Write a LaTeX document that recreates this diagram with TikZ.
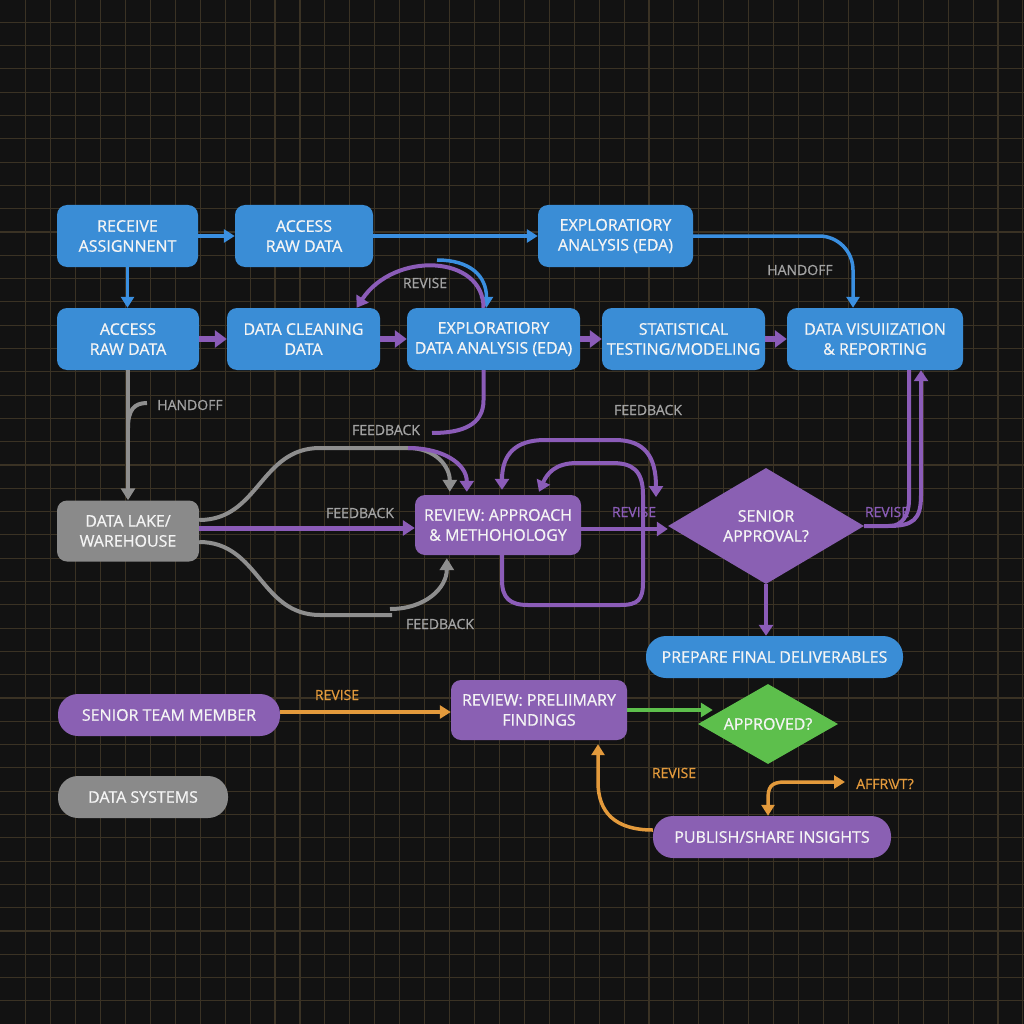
\documentclass[tikz,border=0pt]{standalone}
\usepackage{fontspec}
\setmainfont{Open Sans}[FakeBold=0.7]
\usetikzlibrary{arrows.meta,shapes.geometric,calc}
\definecolor{bgc}{HTML}{121212}
\definecolor{gridc}{HTML}{3A3224}
\definecolor{boxblue}{HTML}{3A8DD6}
\definecolor{boxpurple}{HTML}{8A60B3}
\definecolor{boxgray}{HTML}{8A8A8A}
\definecolor{boxgreen}{HTML}{5DBF4C}
\definecolor{lineblue}{HTML}{3A8FE0}
\definecolor{linepurple}{HTML}{8B5CB8}
\definecolor{linegray}{HTML}{8E8E8E}
\definecolor{lineorange}{HTML}{E39A3C}
\definecolor{txt}{HTML}{F4F4F4}
\definecolor{lblgray}{HTML}{A3A3A3}
\newcommand\bxfont{\fontsize{16}{20}\selectfont}
\newcommand\lbfont{\fontsize{14}{16}\selectfont}
\begin{document}
\begin{tikzpicture}[x=1pt,y=-1pt,
  box/.style={rectangle, rounded corners=10pt, align=center, text=txt, font=\bxfont, inner sep=0pt},
  bluebox/.style={box, fill=boxblue},
  purplebox/.style={box, fill=boxpurple},
  graybox/.style={box, fill=boxgray},
  pill/.style={rounded corners=20pt},
  lbl/.style={font=\lbfont, text=lblgray, inner sep=0pt},
  plbl/.style={font=\lbfont, text=linepurple, inner sep=0pt},
  olbl/.style={font=\lbfont, text=lineorange, inner sep=0pt},
  barrow/.style={draw=lineblue, line width=3.5pt, -{Triangle[length=11pt,width=13pt]}},
  pthick/.style={draw=linepurple, line width=6pt, -{Triangle[length=12pt,width=17pt]}},
  pline/.style={draw=linepurple, line width=4pt},
  parrow/.style={pline, -{Triangle[length=11pt,width=14pt]}},
  gline/.style={draw=linegray, line width=4pt},
  garrow/.style={gline, -{Triangle[length=12pt,width=14pt]}},
  oarrow/.style={draw=lineorange, line width=3.5pt, -{Triangle[length=11pt,width=13pt]}},
  grarrow/.style={draw=boxgreen, line width=4pt, -{Triangle[length=12pt,width=14pt]}}
]
\fill[bgc] (0,0) rectangle (1024,1024);
\useasboundingbox (0,0) rectangle (1024,1024);
\foreach \k in {1,...,41} \draw[gridc, line width=1.1pt] ({0.8+24.93*\k},0) -- ({0.8+24.93*\k},1024);
\foreach \k in {1,...,43} \draw[gridc, line width=1.1pt] (0,{-1+23.3*\k}) -- (1024,{-1+23.3*\k});

% nodes
\node[bluebox, minimum width=141pt, minimum height=62pt] (ra) at (127.5,236) {RECEIVE\\ASSIGNNENT};
\node[bluebox, minimum width=138pt, minimum height=62pt] (ar1) at (304,236) {ACCESS\\RAW DATA};
\node[bluebox, minimum width=155pt, minimum height=62pt] (eda1) at (615.5,236) {EXPLORATIORY\\ANALYSIS (EDA)};
\node[bluebox, minimum width=142pt, minimum height=62pt] (ar2) at (128,339) {ACCESS\\RAW DATA};
\node[bluebox, minimum width=153pt, minimum height=62pt] (dc) at (303.5,339) {DATA CLEANING\\DATA};
\node[bluebox, minimum width=173pt, minimum height=62pt] (eda2) at (493.5,339) {EXPLORATIORY\\DATA ANALYSIS (EDA)};
\node[bluebox, minimum width=163pt, minimum height=62pt] (st) at (683.5,339) {STATISTICAL\\TESTING/MODELING};
\node[bluebox, minimum width=176pt, minimum height=62pt] (dv) at (875,339) {DATA VISUIIZATION\\\&{} REPORTING};
\node[graybox, minimum width=142pt, minimum height=61pt] (dl) at (128,531) {DATA LAKE/\\WAREHOUSE};
\node[purplebox, minimum width=166pt, minimum height=60pt] (ram) at (498,525) {REVIEW: APPROACH\\\&{} METHOHOLOGY};
\node[diamond, aspect=1.7, fill=boxpurple, minimum width=196pt, minimum height=116pt, inner sep=0pt, align=center, text=txt, font=\bxfont] (sa) at (766,526) {SENIOR\\APPROVAL?};
\node[bluebox, pill, minimum width=257pt, minimum height=42pt] (pfd) at (774.5,657) {PREPARE FINAL DELIVERABLES};
\node[purplebox, pill, minimum width=222pt, minimum height=42pt] (stm) at (169,715) {SENIOR TEAM MEMBER};
\node[graybox, pill, minimum width=170pt, minimum height=42pt] (ds) at (143,797) {DATA SYSTEMS};
\node[purplebox, minimum width=176pt, minimum height=60pt] (rpf) at (539,710) {REVIEW: PRELIIMARY\\FINDINGS};
\node[diamond, aspect=1.75, fill=boxgreen, minimum width=140pt, minimum height=80pt, inner sep=0pt, text=txt, font=\bxfont] (apr) at (768,724) {APPROVED?};
\node[purplebox, pill, minimum width=238pt, minimum height=42pt] (psi) at (772,837) {PUBLISH/SHARE INSIGHTS};

% labels
\node[lbl] (l1) at (800,270) {HANDOFF};
\node[lbl] (l2) at (425,283) {REVISE};
\node[lbl] (l3) at (190,405) {HANDOFF};
\node[lbl] (l4) at (386,430) {FEEDBACK};
\node[lbl] (l5) at (360,513) {FEEDBACK};
\node[lbl] (l6) at (440,624) {FEEDBACK};
\node[lbl] (l7) at (648,410) {FEEDBACK};
\node[plbl] (l8) at (634,512) {REVISE};
\node[plbl] (l9) at (887,512) {REVISE};
\node[olbl] (l10) at (337,695) {REVISE};
\node[olbl] (l11) at (674,773) {REVISE};
\node[olbl] (l12) at (885,784) {AFFR\textbackslash\kern-2pt VT?};

% coordinates for free ends
\coordinate (bs) at (437,260);
\coordinate (fb1) at (432,433);
\coordinate (hk0) at (128,428);
\coordinate (hk) at (147,403);
\coordinate (gs) at (408,448);
\coordinate (gl) at (390,609);
\coordinate (ol) at (656,497);
\coordinate (af) at (845,782);

% blue connectors
\draw[barrow] (ra) -- (ar1);
\draw[barrow] (ar1) -- (eda1);
\draw[barrow, rounded corners=34pt] (eda1.east) -| ([xshift=-22pt]dv.north);
\draw[barrow] (ra.south) -- (ra.south |- ar2.north);
\draw[barrow] (bs) .. controls +(33,0) and +(0,-32) .. ([xshift=-7pt]eda2.north);

% middle row
\draw[pthick] (ar2) -- (dc);
\draw[pthick] (dc) -- (eda2);
\draw[pthick] (eda2) -- (st);
\draw[pthick] (st) -- (dv);
\draw[parrow] ([xshift=-10pt]eda2.north) .. controls +(0,-53) and +(38,-57) .. ([xshift=53pt]dc.north);
\draw[pline] ([xshift=-10pt]eda2.south) -- ++(0,30) .. controls +(0,25) and +(30,0) .. (fb1);

% handoff to data lake
\draw[garrow] (ar2) -- (dl);
\draw[gline] (hk0) .. controls +(0,-18) and +(-13,0) .. (hk);

% data lake to review
\draw[garrow] ([yshift=11pt]dl.east) .. controls +(60,0) and +(-60,0) .. (320,448) -- (gs) .. controls +(28,0) and +(0,-25) .. ([xshift=35pt,yshift=3pt]ram.north west);
\draw[parrow] (gs) .. controls +(35,0) and +(0,-28) .. ([xshift=52pt,yshift=3pt]ram.north west);
\draw[pline, line width=5pt, -{Triangle[length=12pt,width=15pt]}] ([yshift=3pt]dl.east) -- ([yshift=-3pt]ram.west);
\draw[gline] ([yshift=-11pt]dl.east) .. controls +(60,0) and +(-60,0) .. (320,615) -- (392,615);
\draw[garrow] (gl) .. controls +(35,0) and +(0,30) .. ([xshift=32pt,yshift=-3pt]ram.south west);

% loops around review
\draw[pline, {Triangle[length=11pt,width=14pt]}-{Triangle[length=11pt,width=14pt]}] ([xshift=4pt,yshift=5pt]ram.north) .. controls +(0,-35) and +(-30,0) .. (545,440) -- (615,440) .. controls +(30,0) and +(0,-40) .. (ol);
\draw[parrow] ([xshift=4pt]ram.south) -- ++(0,25) .. controls +(0,18) and +(-18,0) .. (528,605) -- (620,605) .. controls +(18,0) and +(0,18) .. (643,582) -- (643,495) .. controls +(0,-25) and +(20,0) .. (612,463) -- (577,463) .. controls +(-22,0) and +(8,-18) .. ([xshift=41pt,yshift=3pt]ram.north);

% review to senior approval
\draw[parrow] ([yshift=-4pt]ram.east) -- ([yshift=-3pt]sa.west);
\draw[parrow] (sa.east) -- (888,526) .. controls +(25,0) and +(0,25) .. (921,495) -- ([xshift=46pt]dv.south);
\draw[pline] ([xshift=34pt]dv.south) -- (909,500) .. controls +(0,15) and +(12,0) .. (890,526);
\draw[parrow] (sa.south) -- (sa.south |- pfd.north);

% bottom
\draw[oarrow] ([yshift=3pt]stm.east) -- ([yshift=-2pt]rpf.west);
\draw[grarrow] (rpf.east) -- ([xshift=15pt]apr.west |- rpf.east);
\draw[oarrow] ([yshift=7pt]psi.west) .. controls +(-38,0) and +(0,30) .. (598,782) -- ([xshift=59pt,yshift=-4pt]rpf.south);
\draw[oarrow, {Triangle[length=11pt,width=13pt]}-{Triangle[length=11pt,width=13pt]}] ([xshift=-4pt]psi.north) -- ++(0,-16) .. controls +(0,-12) and +(-15,0) .. (785,782) -- (af);
\end{tikzpicture}
\end{document}
